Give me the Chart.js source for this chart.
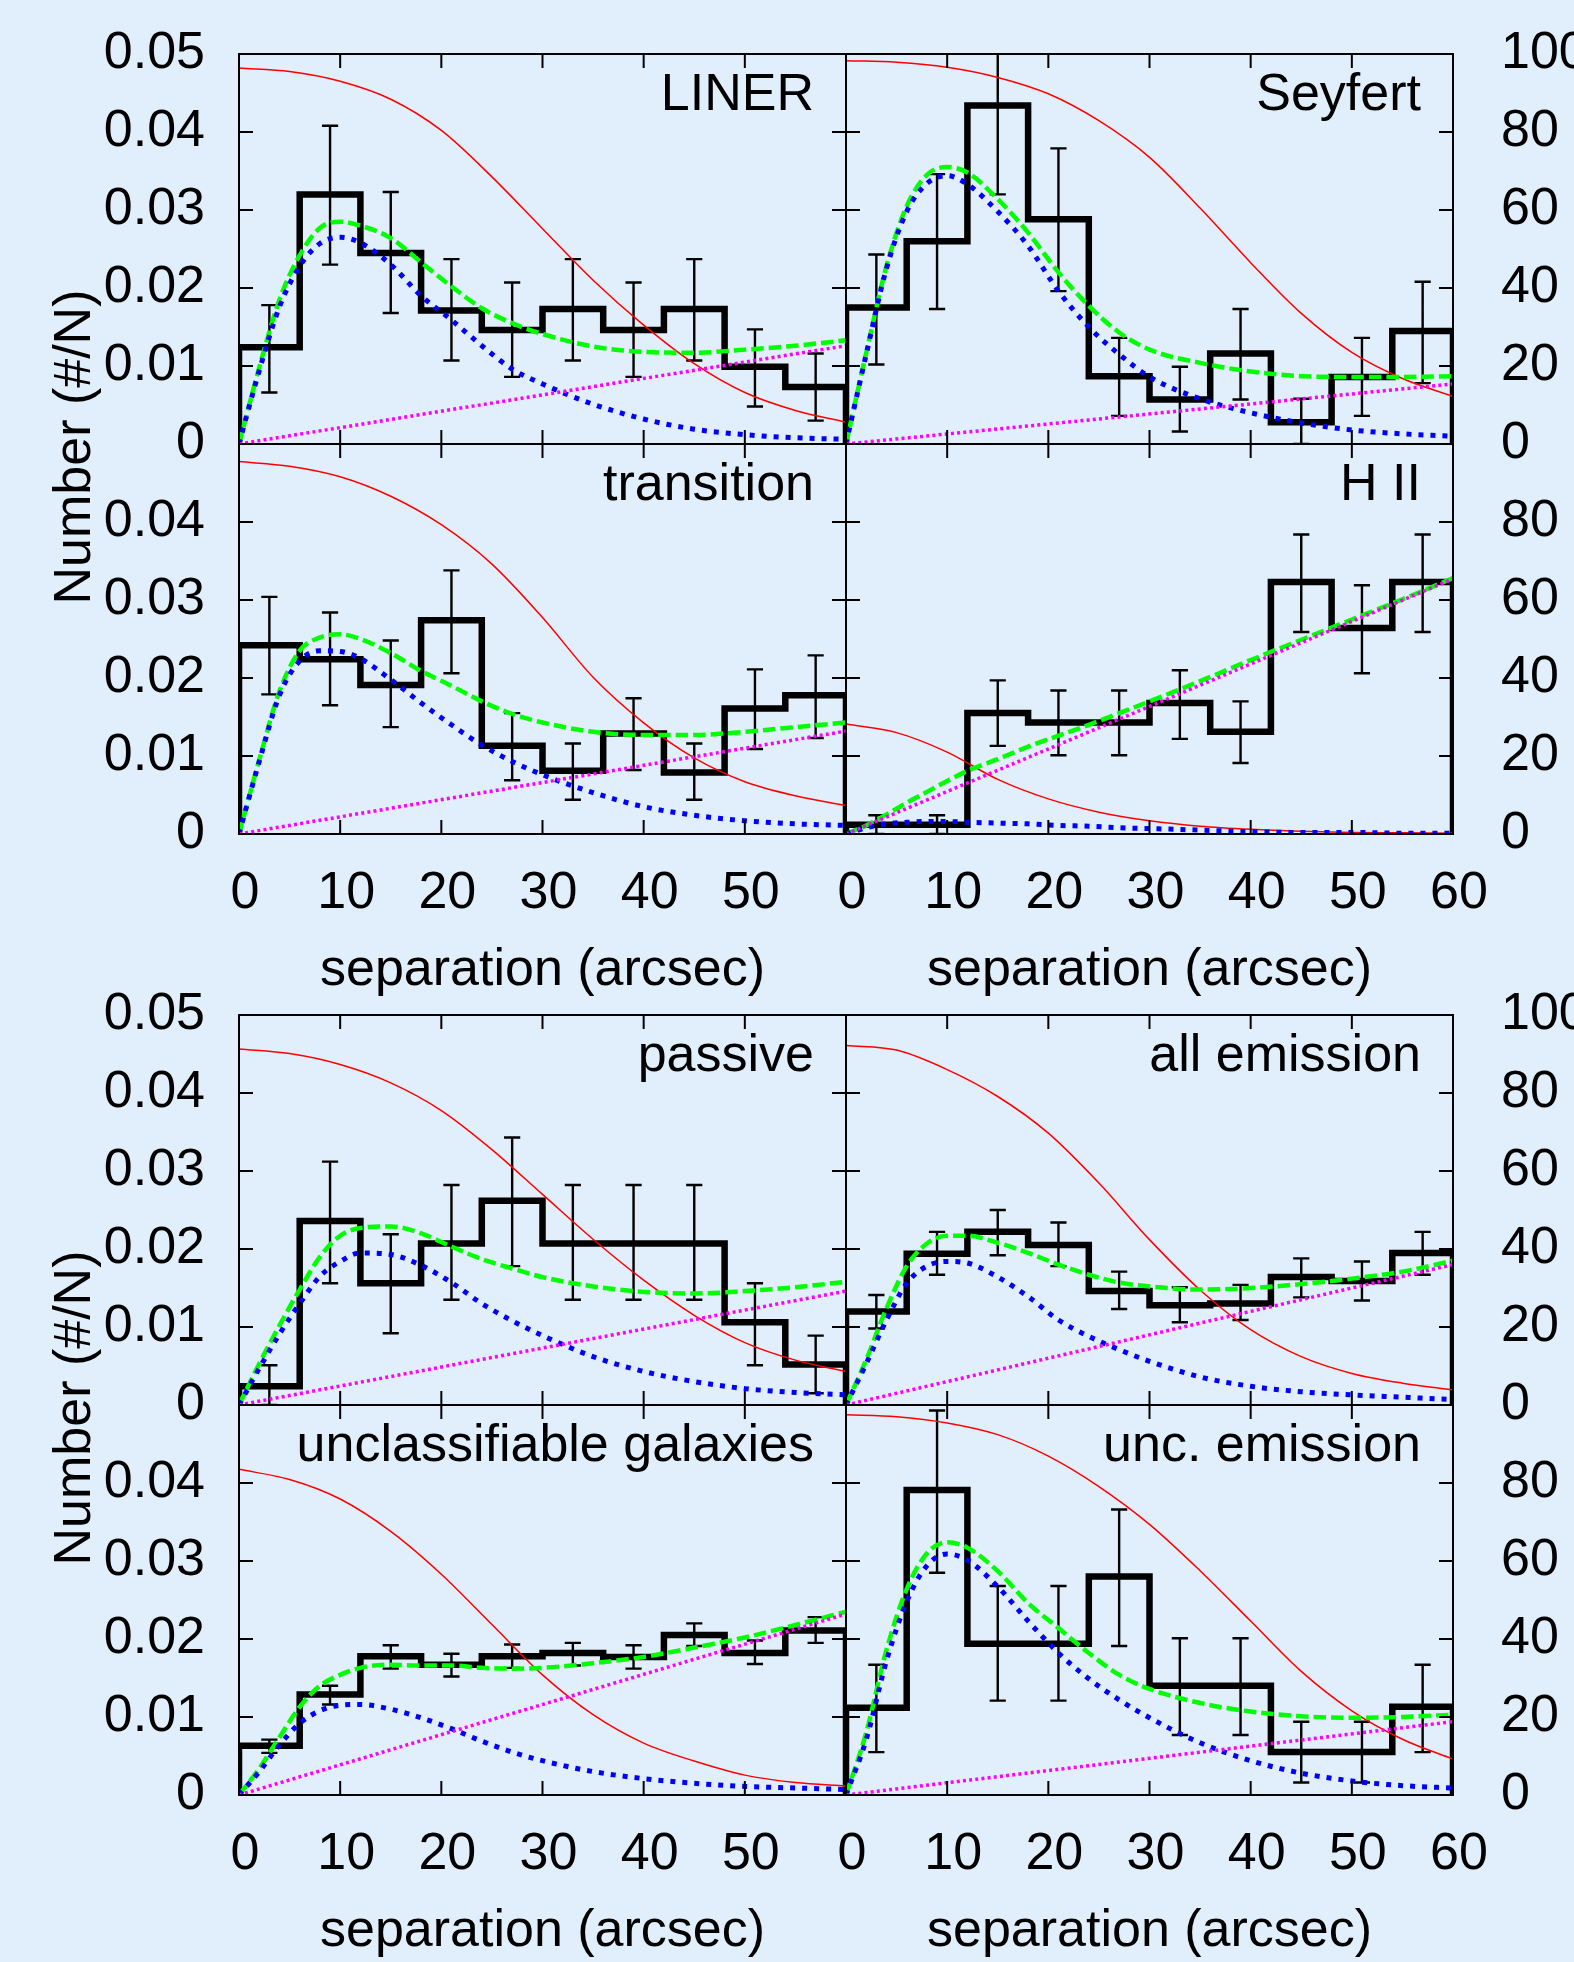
<!DOCTYPE html>
<html>
<head>
<meta charset="utf-8">
<title>Separation histograms</title>
<script src="https://cdn.jsdelivr.net/npm/chart.js"></script>
<style>
  html, body { margin: 0; padding: 0; }
  body { width: 1574px; height: 1962px; background: #e1eefb; position: relative; overflow: hidden;
         font-family: "Liberation Sans", Arial, sans-serif; }
  canvas { position: absolute; }
  .ytitle { position: absolute; font-size: 52px; line-height: 1; white-space: nowrap; color: #000;
            transform: translate(-50%, -50%) rotate(-90deg); }
</style>
</head>
<body>
<div class="ytitle" style="left:72px; top:447px">Number (#/N)</div>
<div class="ytitle" style="left:72px; top:1408px">Number (#/N)</div>
<script>
// shared x grids
const binEdges = [0, 6, 12, 18, 24, 30, 36, 42, 48, 54];
const binCentres = [3, 9, 15, 21, 27, 33, 39, 45, 51, 57];
const curveX = [0, 2, 4, 6, 8, 10, 12, 15, 18, 21, 24, 27, 30, 35, 40, 45, 50, 55, 60];
const redX = [0, 5, 10, 15, 20, 25, 30, 35, 40, 45, 50, 55, 60];
const backX = [0, 60];

// tick values
const xTickValues = [0, 10, 20, 30, 40, 50, 60];
const yTickValues = [0, 0.01, 0.02, 0.03, 0.04, 0.05];
const y2TickValues = [0, 20, 40, 60, 80, 100];

// LINER
const linerHist = [0.0124, 0.0320, 0.0245, 0.0171, 0.0146, 0.0173, 0.0146, 0.0173, 0.0099, 0.0073];
const linerLo = [0.0066, 0.0230, 0.0168, 0.0107, 0.0086, 0.0107, 0.0086, 0.0107, 0.0048, 0.0030];
const linerHi = [0.0178, 0.0408, 0.0323, 0.0237, 0.0207, 0.0237, 0.0207, 0.0237, 0.0147, 0.0116];
const linerRed = [96.4, 95.5, 93.0, 88.4, 80.4, 68.5, 55.2, 42.0, 30.5, 20.6, 13.2, 8.6, 5.6];
const linerGreen = [0, 0.0098, 0.0185, 0.0242, 0.0277, 0.0285, 0.0280, 0.0264, 0.0233, 0.0202, 0.0174, 0.0155, 0.0141, 0.0125, 0.0118, 0.0117, 0.0121, 0.0126, 0.0133];
const linerBlue = [0, 0.0094, 0.0176, 0.0228, 0.0257, 0.0265, 0.0258, 0.0230, 0.0190, 0.0159, 0.0126, 0.0096, 0.0077, 0.0051, 0.0032, 0.0019, 0.0012, 0.0008, 0.0006];
const linerBack = [0, 0.0126];

// Seyfert
const seyfertHist = [0.0175, 0.0260, 0.0434, 0.0288, 0.0087, 0.0057, 0.0116, 0.0028, 0.0086, 0.0145];
const seyfertLo = [0.0102, 0.0173, 0.0320, 0.0196, 0.0036, 0.0016, 0.0057, 0.0000, 0.0036, 0.0078];
const seyfertHi = [0.0243, 0.0346, 0.0505, 0.0379, 0.0136, 0.0099, 0.0173, 0.0058, 0.0136, 0.0208];
const seyfertRed = [98.3, 97.9, 96.6, 94.0, 89.8, 82.9, 73.5, 60.5, 46.5, 33.5, 23.5, 16.8, 12.2];
const seyfertGreen = [0, 0.0117, 0.0228, 0.0305, 0.0345, 0.0355, 0.0348, 0.0314, 0.0271, 0.0220, 0.0177, 0.0143, 0.0121, 0.0104, 0.0093, 0.0087, 0.0086, 0.0086, 0.0087];
const seyfertBlue = [0, 0.0115, 0.0225, 0.0298, 0.0334, 0.0344, 0.0333, 0.0298, 0.0254, 0.0196, 0.0150, 0.0115, 0.0086, 0.0058, 0.0040, 0.0027, 0.0018, 0.0013, 0.0010];
const seyfertBack = [0, 0.0077];

// transition
const transHist = [0.0242, 0.0224, 0.0191, 0.0274, 0.0113, 0.0081, 0.0129, 0.0079, 0.0161, 0.0178];
const transLo = [0.0179, 0.0165, 0.0137, 0.0206, 0.0069, 0.0044, 0.0082, 0.0044, 0.0109, 0.0123];
const transHi = [0.0304, 0.0284, 0.0248, 0.0338, 0.0155, 0.0116, 0.0174, 0.0116, 0.0211, 0.0229];
const transRed = [95.5, 94.3, 91.6, 86.6, 79.3, 69.2, 55.5, 40.2, 28.5, 19.5, 13.4, 9.8, 7.3];
const transGreen = [0, 0.0095, 0.0183, 0.0235, 0.0252, 0.0256, 0.0250, 0.0232, 0.0209, 0.0190, 0.0170, 0.0154, 0.0143, 0.0131, 0.0127, 0.0127, 0.0131, 0.0137, 0.0143];
const transBlue = [0, 0.0093, 0.0178, 0.0222, 0.0235, 0.0234, 0.0225, 0.0198, 0.0168, 0.0140, 0.0114, 0.0093, 0.0076, 0.0053, 0.0035, 0.0024, 0.0017, 0.0013, 0.0011];
const transBack = [0, 0.0132];

// H II
const hiiHist = [0.0012, 0.0012, 0.0155, 0.0143, 0.0143, 0.0168, 0.0131, 0.0323, 0.0264, 0.0323];
const hiiLo = [0.0000, 0.0000, 0.0113, 0.0101, 0.0101, 0.0122, 0.0091, 0.0259, 0.0206, 0.0259];
const hiiHi = [0.0024, 0.0024, 0.0197, 0.0184, 0.0184, 0.0210, 0.0170, 0.0384, 0.0319, 0.0384];
const hiiRed = [28.2, 26.0, 21.0, 14.0, 9.0, 5.6, 3.4, 2.0, 1.2, 0.7, 0.4, 0.3, 0.2];
const hiiGreen = [0, 0.0011, 0.0025, 0.0040, 0.0054, 0.0068, 0.0081, 0.0096, 0.0112, 0.0126, 0.0140, 0.0155, 0.0170, 0.0196, 0.0223, 0.0249, 0.0275, 0.0301, 0.0328];
const hiiBlue = [0, 0.0008, 0.0013, 0.0015, 0.0016, 0.0016, 0.0015, 0.0014, 0.0013, 0.0011, 0.0010, 0.0008, 0.0007, 0.0005, 0.0003, 0.0002, 0.0002, 0.0001, 0.0001];
const hiiBack = [0, 0.0327];

// passive
const passHist = [0.0024, 0.0236, 0.0156, 0.0207, 0.0262, 0.0207, 0.0207, 0.0207, 0.0106, 0.0052];
const passLo = [0.0000, 0.0156, 0.0092, 0.0135, 0.0178, 0.0135, 0.0135, 0.0135, 0.0051, 0.0015];
const passHi = [0.0051, 0.0312, 0.0219, 0.0282, 0.0343, 0.0282, 0.0282, 0.0282, 0.0156, 0.0089];
const passRed = [91.3, 90.1, 87.3, 82.6, 75.5, 65.5, 54.0, 42.5, 32.0, 23.0, 16.0, 11.5, 8.6];
const passGreen = [0, 0.0053, 0.0102, 0.0148, 0.0190, 0.0217, 0.0227, 0.0229, 0.0220, 0.0203, 0.0187, 0.0175, 0.0164, 0.0152, 0.0145, 0.0143, 0.0146, 0.0151, 0.0158];
const passBlue = [0, 0.0047, 0.0091, 0.0130, 0.0165, 0.0184, 0.0195, 0.0193, 0.0179, 0.0157, 0.0130, 0.0108, 0.0089, 0.0062, 0.0043, 0.0030, 0.0021, 0.0016, 0.0013];
const passBack = [0, 0.0146];

// all emission
const allHist = [0.0120, 0.0194, 0.0222, 0.0205, 0.0146, 0.0128, 0.0130, 0.0164, 0.0159, 0.0195];
const allLo = [0.0098, 0.0167, 0.0192, 0.0178, 0.0123, 0.0106, 0.0109, 0.0138, 0.0134, 0.0167];
const allHi = [0.0141, 0.0222, 0.0250, 0.0234, 0.0171, 0.0151, 0.0154, 0.0188, 0.0184, 0.0222];
const allRed = [92.2, 91.0, 86.0, 79.1, 69.7, 56.9, 42.4, 29.5, 19.3, 12.4, 8.1, 5.6, 3.9];
const allGreen = [0, 0.0058, 0.0124, 0.0178, 0.0207, 0.0217, 0.0217, 0.0208, 0.0195, 0.0180, 0.0167, 0.0157, 0.0152, 0.0148, 0.0150, 0.0155, 0.0162, 0.0171, 0.0185];
const allBlue = [0, 0.0053, 0.0109, 0.0156, 0.0178, 0.0184, 0.0182, 0.0164, 0.0139, 0.0109, 0.0088, 0.0071, 0.0056, 0.0036, 0.0024, 0.0017, 0.0013, 0.0010, 0.0007];
const allBack = [0, 0.0180];

// unclassifiable galaxies
const unclHist = [0.0063, 0.0129, 0.0178, 0.0167, 0.0178, 0.0182, 0.0177, 0.0205, 0.0182, 0.0211];
const unclLo = [0.0054, 0.0116, 0.0162, 0.0152, 0.0163, 0.0166, 0.0162, 0.0191, 0.0168, 0.0195];
const unclHi = [0.0071, 0.0140, 0.0192, 0.0181, 0.0193, 0.0195, 0.0192, 0.0220, 0.0198, 0.0228];
const unclRed = [83.5, 80.9, 75.9, 67.6, 56.6, 43.7, 30.8, 20.6, 13.3, 8.7, 5.1, 3.2, 2.3];
const unclGreen = [0, 0.0034, 0.0074, 0.0113, 0.0140, 0.0154, 0.0163, 0.0167, 0.0166, 0.0166, 0.0163, 0.0162, 0.0163, 0.0169, 0.0177, 0.0189, 0.0202, 0.0218, 0.0235];
const unclBlue = [0, 0.0030, 0.0064, 0.0092, 0.0108, 0.0115, 0.0116, 0.0110, 0.0099, 0.0085, 0.0069, 0.0055, 0.0044, 0.0030, 0.0021, 0.0015, 0.0011, 0.0009, 0.0007];
const unclBack = [0, 0.0232];

// unc. emission
const uemHist = [0.0112, 0.0391, 0.0194, 0.0194, 0.0280, 0.0140, 0.0140, 0.0055, 0.0055, 0.0113];
const uemLo = [0.0055, 0.0285, 0.0121, 0.0121, 0.0191, 0.0077, 0.0077, 0.0016, 0.0016, 0.0055];
const uemHi = [0.0167, 0.0493, 0.0268, 0.0268, 0.0366, 0.0201, 0.0201, 0.0094, 0.0094, 0.0167];
const uemRed = [97.5, 97.0, 95.4, 92.4, 86.9, 79.1, 69.4, 57.5, 44.6, 31.7, 21.6, 14.3, 9.2];
const uemGreen = [0, 0.0080, 0.0186, 0.0264, 0.0310, 0.0324, 0.0317, 0.0287, 0.0246, 0.0214, 0.0182, 0.0154, 0.0136, 0.0118, 0.0107, 0.0101, 0.0099, 0.0100, 0.0103];
const uemBlue = [0, 0.0071, 0.0172, 0.0248, 0.0294, 0.0309, 0.0301, 0.0267, 0.0223, 0.0182, 0.0149, 0.0122, 0.0099, 0.0067, 0.0044, 0.0028, 0.0018, 0.0012, 0.0009];
const uemBack = [0, 0.0094];

const panels = [
  { name: 'LINER', hist: linerHist, lo: linerLo, hi: linerHi, red: linerRed, green: linerGreen, blue: linerBlue, back: linerBack },
  { name: 'Seyfert', hist: seyfertHist, lo: seyfertLo, hi: seyfertHi, red: seyfertRed, green: seyfertGreen, blue: seyfertBlue, back: seyfertBack },
  { name: 'transition', hist: transHist, lo: transLo, hi: transHi, red: transRed, green: transGreen, blue: transBlue, back: transBack },
  { name: 'H II', hist: hiiHist, lo: hiiLo, hi: hiiHi, red: hiiRed, green: hiiGreen, blue: hiiBlue, back: hiiBack },
  { name: 'passive', hist: passHist, lo: passLo, hi: passHi, red: passRed, green: passGreen, blue: passBlue, back: passBack },
  { name: 'all emission', hist: allHist, lo: allLo, hi: allHi, red: allRed, green: allGreen, blue: allBlue, back: allBack },
  { name: 'unclassifiable galaxies', hist: unclHist, lo: unclLo, hi: unclHi, red: unclRed, green: unclGreen, blue: unclBlue, back: unclBack },
  { name: 'unc. emission', hist: uemHist, lo: uemLo, hi: uemHi, red: uemRed, green: uemGreen, blue: uemBlue, back: uemBack }
];

// layout (page pixels)
const colX = [239, 846];
const rowY = [54, 444, 1015, 1405];
const areaW = 607, areaH = 390;
const M = { l: 200, r: 130, t: 40, b: 175 };
const xMax = 60, capHalf = 0.8, tickLen = 14;
const FONT = { family: '"Liberation Sans", Arial, sans-serif', size: 52 };

Chart.defaults.font.family = FONT.family;
Chart.defaults.color = '#000';

const pts = (xs, ys) => xs.map((x, k) => ({ x: x, y: ys[k] }));

function histPoints(vals) {
  const out = [{ x: binEdges[0], y: 0 }];
  vals.forEach((v, k) => out.push({ x: binEdges[k], y: v }));
  out.push({ x: xMax, y: vals[vals.length - 1] }, { x: xMax, y: 0 });
  return out;
}

function errorPoints(lo, hi) {
  const out = [];
  binCentres.forEach((c, k) => {
    out.push({ x: c, y: lo[k] }, { x: c, y: hi[k] }, { x: c, y: null });
    out.push({ x: c - capHalf, y: lo[k] }, { x: c + capHalf, y: lo[k] }, { x: c, y: null });
    out.push({ x: c - capHalf, y: hi[k] }, { x: c + capHalf, y: hi[k] }, { x: c, y: null });
  });
  return out;
}

const fmtY = v => (v === 0 ? '0' : v.toFixed(2));
const near = (a, b) => Math.abs(a - b) < 1e-9;

// fixed axis sizes, and no extra room for the end labels
const fixWidth = w => s => { s.width = w; s.paddingTop = 0; s.paddingBottom = 0; };
const fixHeight = h => s => { s.height = h; s.paddingLeft = 0; s.paddingRight = 0; };

// frame, inward ticks and the panel name
const panelFrame = {
  id: 'panelFrame',
  afterDatasetsDraw(chart, args, opts) {
    const { ctx, chartArea: a, scales } = chart;
    ctx.save();
    ctx.strokeStyle = '#000';
    ctx.lineWidth = 2;
    ctx.strokeRect(a.left, a.top, a.right - a.left, a.bottom - a.top);
    ctx.beginPath();
    scales.x.ticks.forEach(t => {
      const px = scales.x.getPixelForValue(t.value);
      ctx.moveTo(px, a.bottom); ctx.lineTo(px, a.bottom - tickLen);
      ctx.moveTo(px, a.top); ctx.lineTo(px, a.top + tickLen);
    });
    scales.y.ticks.forEach(t => {
      const py = scales.y.getPixelForValue(t.value);
      ctx.moveTo(a.left, py); ctx.lineTo(a.left + tickLen, py);
      ctx.moveTo(a.right, py); ctx.lineTo(a.right - tickLen, py);
    });
    ctx.stroke();
    ctx.font = FONT.size + 'px ' + FONT.family;
    ctx.fillStyle = '#000';
    ctx.textAlign = 'right';
    ctx.textBaseline = 'alphabetic';
    ctx.fillText(opts.label, a.right - 32, a.top + 56);
    ctx.restore();
  }
};

panels.forEach((p, i) => {
  const col = i % 2, row = Math.floor(i / 2);
  const bottomRow = row % 2 === 1;
  const cv = document.createElement('canvas');
  cv.width = M.l + areaW + M.r;
  cv.height = M.t + areaH + M.b;
  cv.style.left = (colX[col] - M.l) + 'px';
  cv.style.top = (rowY[row] - M.t) + 'px';
  document.body.appendChild(cv);

  const chart = new Chart(cv.getContext('2d'), {
    type: 'line',
    data: {
      datasets: [
        { data: pts(backX, p.back), borderColor: '#ff00ff', borderWidth: 3.5, borderDash: [3, 3.2], pointRadius: 0, order: 0 },
        { data: pts(curveX, p.blue), borderColor: '#0000ff', borderWidth: 5, borderDash: [5, 7], pointRadius: 0, cubicInterpolationMode: 'monotone', order: 1 },
        { data: pts(curveX, p.green), borderColor: '#00ff00', borderWidth: 4.5, borderDash: [12.5, 5], pointRadius: 0, cubicInterpolationMode: 'monotone', order: 2 },
        { data: pts(redX, p.red), yAxisID: 'y2', borderColor: '#ff0000', borderWidth: 1.5, pointRadius: 0, cubicInterpolationMode: 'monotone', order: 3 },
        { data: errorPoints(p.lo, p.hi), borderColor: '#000', borderWidth: 2.4, pointRadius: 0, spanGaps: false, order: 4 },
        { data: histPoints(p.hist), borderColor: '#000', borderWidth: 6.5, pointRadius: 0, stepped: 'before', order: 5 }
      ]
    },
    options: {
      responsive: false,
      animation: false,
      events: [],
      layout: { padding: { top: M.t, left: 0, right: 0, bottom: 0 } },
      plugins: {
        legend: { display: false },
        tooltip: { enabled: false },
        panelFrame: { label: p.name }
      },
      scales: {
        x: {
          type: 'linear', position: 'bottom', min: 0, max: xMax,
          afterBuildTicks: s => { s.ticks = xTickValues.map(v => ({ value: v })); },
          afterFit: fixHeight(M.b),
          grid: { display: false, drawTicks: false },
          border: { display: false },
          ticks: {
            autoSkip: false, maxRotation: 0, padding: 28, labelOffset: 6, font: FONT,
            callback: v => (!bottomRow || (col === 0 && v === xMax)) ? '' : String(v)
          },
          title: {
            display: bottomRow, text: 'separation (arcsec)', font: FONT,
            padding: { top: 0, bottom: 7 }
          }
        },
        y: {
          type: 'linear', position: 'left', min: 0, max: 0.05,
          afterBuildTicks: s => { s.ticks = yTickValues.map(v => ({ value: v })); },
          afterFit: fixWidth(M.l),
          grid: { display: false, drawTicks: false },
          border: { display: false },
          ticks: {
            padding: 34, font: FONT,
            callback: v => (col === 1 || (bottomRow && near(v, 0.05))) ? '' : fmtY(v)
          }
        },
        y2: {
          type: 'linear', position: 'right', min: 0, max: 100,
          afterBuildTicks: s => { s.ticks = y2TickValues.map(v => ({ value: v })); },
          afterFit: fixWidth(M.r),
          grid: { display: false, drawTicks: false },
          border: { display: false },
          ticks: {
            padding: 48, font: FONT,
            callback: v => (col === 0 || (bottomRow && v === 100)) ? '' : String(v)
          }
        }
      }
    },
    plugins: [panelFrame]
  });

  // pin the plot box to its place on the page
  cv.style.left = (colX[col] - chart.chartArea.left) + 'px';
  cv.style.top = (rowY[row] - chart.chartArea.top) + 'px';
});
</script>
</body>
</html>
